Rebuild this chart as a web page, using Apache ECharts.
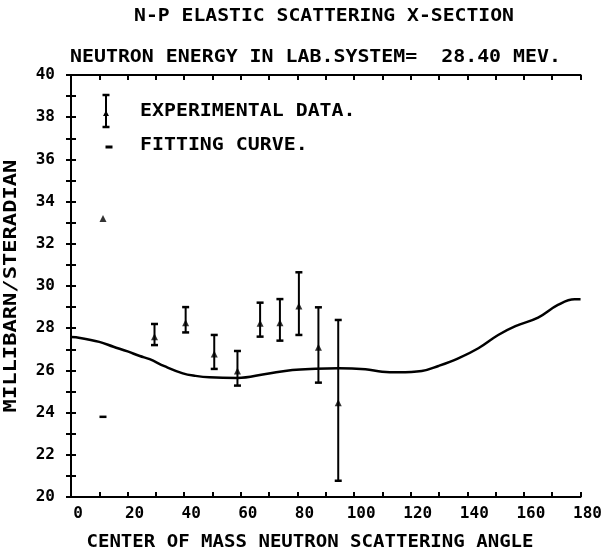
<!DOCTYPE html>
<html><head><meta charset="utf-8">
<script src="https://cdn.jsdelivr.net/npm/echarts@6/dist/echarts.min.js"></script>
<style>html,body{margin:0;padding:0;background:#fff}#c{width:605px;height:556px}</style>
</head><body><div id="c"></div>
<script>
// ---- data ----
const xTickLabels = [0, 20, 40, 60, 80, 100, 120, 140, 160, 180];
const yTickLabels = [20, 22, 24, 26, 28, 30, 32, 34, 36, 38, 40];

const expAngle = [29.5, 40.5, 50.6, 58.8, 66.8, 73.8, 80.5, 87.4, 94.4];
const expValue = [27.6, 28.26, 26.78, 25.97, 28.23, 28.26, 29.05, 27.1, 24.47];
const expLow   = [27.2, 27.8, 26.07, 25.28, 27.6, 27.41, 27.68, 25.42, 20.77];
const expHigh  = [28.2, 29.0, 27.68, 26.92, 29.21, 29.38, 30.65, 28.99, 28.39];

const strayAngle = [11.3];
const strayValue = [33.2];
const strayLow   = [23.8];

const fitAngle = [0, 3.2, 10, 15, 20, 24.3, 27.8, 33, 39.5, 44, 48.9, 58.8, 68.8, 78.2, 86.4, 94.6, 104, 109.9, 115.7, 123.9, 129.8, 136.8, 143.9, 150.9, 157, 165, 172, 177.9, 180];
const fitValue = [27.58, 27.54, 27.35, 27.12, 26.9, 26.68, 26.53, 26.2, 25.86, 25.74, 25.67, 25.64, 25.83, 26.02, 26.08, 26.1, 26.05, 25.94, 25.91, 25.97, 26.21, 26.57, 27.05, 27.68, 28.1, 28.5, 29.1, 29.37, 29.37];

const titleText = 'N-P ELASTIC SCATTERING X-SECTION';
const subtitleText = 'NEUTRON ENERGY IN LAB.SYSTEM=  28.40 MEV.';
const legendTexts = ['EXPERIMENTAL DATA.', 'FITTING CURVE.'];
const xName = 'CENTER OF MASS NEUTRON SCATTERING ANGLE';
const yName = 'MILLIBARN/STERADIAN';

// ---- chart ----
const FONT = '"DejaVu Sans Mono", "Liberation Mono", monospace';
const chart = echarts.init(document.getElementById('c'), null, {renderer: 'canvas'});

function txt(text, x, y, opts) {
  return {
    type: 'text', x: x, y: y, scaleX: opts.scaleX || 1, rotation: opts.rotation || 0,
    style: {text: text, x: 0, y: 0, fill: '#000', font: 'bold ' + (opts.size || 17) + 'px ' + FONT,
      textAlign: opts.align || 'left', textVerticalAlign: 'middle'}
  };
}

const axisCommon = {
  type: 'value',
  axisLine: {show: true, lineStyle: {color: '#000', width: 2}},
  axisTick: {show: true, inside: true, length: 5, lineStyle: {color: '#000', width: 2}},
  splitLine: {show: false}
};

const option = {
  animation: false,
  backgroundColor: '#fff',
  grid: {left: 71, right: 22, top: 75, bottom: 59},
  xAxis: [
    Object.assign({}, axisCommon, {
      min: 0, max: 180, interval: 10, position: 'bottom',
      axisLabel: {
        color: '#000', fontFamily: FONT, fontWeight: 'bold', fontSize: 16, margin: 9,
        padding: [0, 0, 0, 14],
        formatter: v => xTickLabels.includes(v) ? String(v) : ''
      }
    }),
    Object.assign({}, axisCommon, {
      min: 0, max: 180, interval: 10, position: 'top', axisLabel: {show: false}
    })
  ],
  yAxis: [
    Object.assign({}, axisCommon, {
      min: 20, max: 40, interval: 1, position: 'left',
      axisLabel: {
        color: '#000', fontFamily: FONT, fontWeight: 'bold', fontSize: 16, margin: 16,
        formatter: v => yTickLabels.includes(v) ? String(v) : ''
      }
    }),
    Object.assign({}, axisCommon, {
      min: 20, max: 40, interval: 1, position: 'right', axisLabel: {show: false}
    })
  ],
  graphic: [
    txt(titleText, 324, 17, {size: 17, scaleX: 1.16, align: 'center'}),
    txt(subtitleText, 70, 58, {size: 17, scaleX: 1.17}),
    txt(legendTexts[0], 140, 112, {size: 17, scaleX: 1.17}),
    txt(legendTexts[1], 140, 146, {size: 17, scaleX: 1.17}),
    txt(xName, 310, 543, {size: 17, scaleX: 1.12, align: 'center'}),
    txt(yName, 12, 286, {size: 17, scaleX: 1.3, align: 'center', rotation: Math.PI / 2}),
    // legend icons
    {type: 'line', shape: {x1: 106, y1: 95, x2: 106, y2: 127}, style: {stroke: '#000', lineWidth: 2}},
    {type: 'line', shape: {x1: 102.5, y1: 95, x2: 109.5, y2: 95}, style: {stroke: '#000', lineWidth: 2.5}},
    {type: 'line', shape: {x1: 102.5, y1: 127, x2: 109.5, y2: 127}, style: {stroke: '#000', lineWidth: 2.5}},
    {type: 'polygon', shape: {points: [[106, 110.5], [103, 116], [109, 116]]}, style: {fill: '#000'}},
    {type: 'line', shape: {x1: 105.5, y1: 147, x2: 112.5, y2: 147}, style: {stroke: '#000', lineWidth: 3}}
  ],
  series: [
    {
      type: 'line', name: 'fit', data: fitAngle.map((a, i) => [a, fitValue[i]]),
      smooth: 0.4, showSymbol: false, lineStyle: {color: '#000', width: 2.5}, z: 2
    },
    {
      type: 'custom', name: 'err',
      data: expAngle.map((a, i) => [a, expLow[i], expHigh[i]]),
      encode: {x: 0, y: [1, 2]},
      renderItem: function (params, api) {
        const x = api.value(0), lo = api.value(1), hi = api.value(2);
        const pLo = api.coord([x, lo]), pHi = api.coord([x, hi]);
        const hw = 3.5;
        return {type: 'group', children: [
          {type: 'line', shape: {x1: pLo[0], y1: pLo[1], x2: pHi[0], y2: pHi[1]}, style: {stroke: '#000', lineWidth: 2}},
          {type: 'line', shape: {x1: pLo[0] - hw, y1: pLo[1], x2: pLo[0] + hw, y2: pLo[1]}, style: {stroke: '#000', lineWidth: 2.5}},
          {type: 'line', shape: {x1: pHi[0] - hw, y1: pHi[1], x2: pHi[0] + hw, y2: pHi[1]}, style: {stroke: '#000', lineWidth: 2.5}}
        ]};
      }, z: 3
    },
    {
      type: 'custom', name: 'strayCap',
      data: strayAngle.map((a, i) => [a, strayLow[i]]),
      encode: {x: 0, y: 1},
      renderItem: function (params, api) {
        const p = api.coord([api.value(0), api.value(1)]);
        return {type: 'line', shape: {x1: p[0] - 3.5, y1: p[1], x2: p[0] + 3.5, y2: p[1]}, style: {stroke: '#000', lineWidth: 2.5}};
      }, z: 3
    },
    {
      type: 'scatter', name: 'points',
      data: expAngle.map((a, i) => [a, expValue[i]]).concat(strayAngle.map((a, i) => [a, strayValue[i]])),
      symbol: 'triangle', symbolSize: [7, 7], itemStyle: {color: '#000'}, z: 4
    }
  ]
};
chart.setOption(option);
</script>
</body></html>
